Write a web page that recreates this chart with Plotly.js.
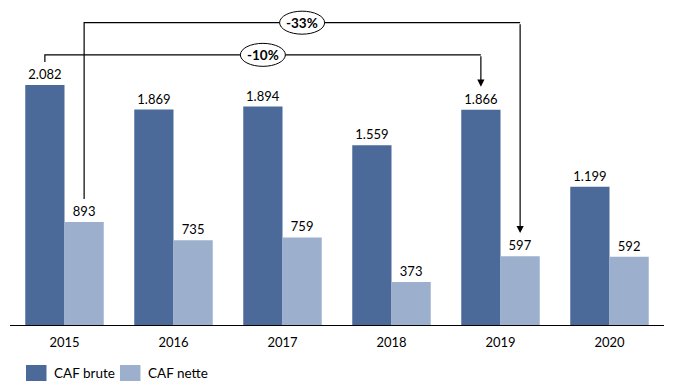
<!DOCTYPE html>
<html>
<head>
<meta charset="utf-8">
<script src="https://cdn.plot.ly/plotly-3.0.1.min.js"></script>
<style>html,body{margin:0;padding:0;background:#fff;}#chart{width:676px;height:392px;}</style>
</head>
<body>
<div id="chart"></div>
<script>
const years = ['2015', '2016', '2017', '2018', '2019', '2020'];
const cafBrute = [2082, 1869, 1894, 1559, 1866, 1199];
const cafNette = [893, 735, 759, 373, 597, 592];
const seriesNames = ['CAF brute', 'CAF nette'];
const changeBrute = '-10%';
const changeNette = '-33%';

const colBrute = '#4b6a9a';
const colNette = '#9cb0ce';
const font = 'Lato, "Open Sans", sans-serif';
const bargap = 0.28;
const off = (1 - bargap) / 4;

const traces = [
  {type: 'bar', name: seriesNames[0], x: years, y: cafBrute, marker: {color: colBrute},
   texttemplate: '%{y:,}', textposition: 'outside', cliponaxis: false,
   textfont: {family: font, size: 13, color: '#000'}, hoverinfo: 'x+y'},
  {type: 'bar', name: seriesNames[1], x: years, y: cafNette, marker: {color: colNette},
   texttemplate: '%{y:,}', textposition: 'outside', cliponaxis: false,
   textfont: {family: font, size: 13, color: '#000'}, hoverinfo: 'x+y'}
];

const i0 = years.indexOf('2015'), i1 = years.indexOf('2019');
const pad = 200;
const yB = 2343, yN = 2622;
const bx0 = i0 - off, bx1 = i1 - off, nx0 = i0 + off, nx1 = i1 + off;
const line = {color: '#000', width: 1.2};
const shapes = [
  {type: 'path', xref: 'x', yref: 'y', line: line,
   path: `M${bx0},${cafBrute[i0] + pad} L${bx0},${yB} L${bx1},${yB}`},
  {type: 'path', xref: 'x', yref: 'y', line: line,
   path: `M${nx0},${cafNette[i0] + pad} L${nx0},${yN} L${nx1},${yN}`},
  {type: 'circle', xref: 'x', yref: 'y', xsizemode: 'pixel', ysizemode: 'pixel',
   xanchor: (bx0 + bx1) / 2, yanchor: yB, x0: -22.5, x1: 22.5, y0: -11.5, y1: 11.5,
   fillcolor: '#fff', line: {color: '#000', width: 1}},
  {type: 'circle', xref: 'x', yref: 'y', xsizemode: 'pixel', ysizemode: 'pixel',
   xanchor: (nx0 + nx1) / 2, yanchor: yN, x0: -22.5, x1: 22.5, y0: -11.5, y1: 11.5,
   fillcolor: '#fff', line: {color: '#000', width: 1}},
  // custom legend boxes
  {type: 'rect', xref: 'paper', yref: 'paper', x0: 0.0245, x1: 0.0558, y0: -0.1778, y1: -0.127,
   fillcolor: colBrute, line: {width: 0}},
  {type: 'rect', xref: 'paper', yref: 'paper', x0: 0.1682, x1: 0.1995, y0: -0.1778, y1: -0.127,
   fillcolor: colNette, line: {width: 0}}
];

const annotations = [
  {xref: 'x', yref: 'y', x: bx1, y: cafBrute[i1] + pad, axref: 'x', ayref: 'y', ax: bx1, ay: yB,
   text: '', showarrow: true, arrowhead: 2, arrowsize: 1.2, arrowwidth: 1.2, arrowcolor: '#000', standoff: 0},
  {xref: 'x', yref: 'y', x: nx1, y: cafNette[i1] + pad, axref: 'x', ayref: 'y', ax: nx1, ay: yN,
   text: '', showarrow: true, arrowhead: 2, arrowsize: 1.2, arrowwidth: 1.2, arrowcolor: '#000', standoff: 0},
  {xref: 'x', yref: 'y', x: (bx0 + bx1) / 2, y: yB, text: '<b>' + changeBrute + '</b>', showarrow: false,
   font: {family: font, size: 13.5, color: '#000'}},
  {xref: 'x', yref: 'y', x: (nx0 + nx1) / 2, y: yN, text: '<b>' + changeNette + '</b>', showarrow: false,
   font: {family: font, size: 13.5, color: '#000'}},
  {xref: 'paper', yref: 'paper', x: 0.0642, y: -0.1524, xanchor: 'left', yanchor: 'middle',
   text: seriesNames[0], showarrow: false, font: {family: font, size: 13.5, color: '#000'}},
  {xref: 'paper', yref: 'paper', x: 0.208, y: -0.1524, xanchor: 'left', yanchor: 'middle',
   text: seriesNames[1], showarrow: false, font: {family: font, size: 13.5, color: '#000'}}
];

const layout = {
  width: 676, height: 392,
  margin: {l: 10, r: 12, t: 10, b: 67, pad: 0},
  paper_bgcolor: '#fff', plot_bgcolor: '#fff',
  separators: ',.',
  barmode: 'group', bargap: bargap, bargroupgap: 0,
  showlegend: false,
  font: {family: font, size: 13, color: '#000'},
  xaxis: {type: 'category', showline: true, linecolor: '#000', linewidth: 1, ticks: '',
    showgrid: false, zeroline: false, ticklabelstandoff: 5,
    tickfont: {family: font, size: 13, color: '#000'}},
  yaxis: {range: [0, 2732], visible: false, showgrid: false, zeroline: false},
  shapes: shapes,
  annotations: annotations
};

Plotly.newPlot('chart', traces, layout, {displayModeBar: false, staticPlot: true});
</script>
</body>
</html>
